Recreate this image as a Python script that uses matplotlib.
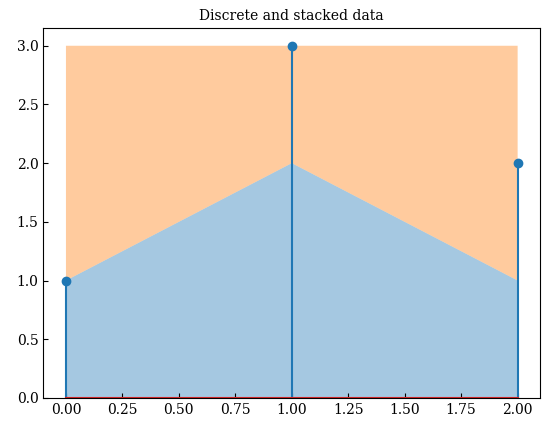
import matplotlib
matplotlib.use("Agg")
import matplotlib.pyplot as plt

plt.rcParams['font.family'] = ['DejaVu Serif']
plt.rcParams['xtick.direction'] = 'in'
plt.rcParams['ytick.direction'] = 'in'

x = [0, 1, 2]
lower = [1, 2, 1]
upper = [2, 1, 2]
stems = [1, 3, 2]

fig, ax = plt.subplots(figsize=(5.49, 4.33), dpi=100)
fig.subplots_adjust(left=0.079, right=0.984, top=0.935, bottom=0.081)

ax.stackplot(x, lower, upper, alpha=0.4)
ax.stem(x, stems)
ax.set_ylim(bottom=0)
ax.set_title('Discrete and stacked data', fontsize=10)

fig.savefig('out.png', dpi=100)
